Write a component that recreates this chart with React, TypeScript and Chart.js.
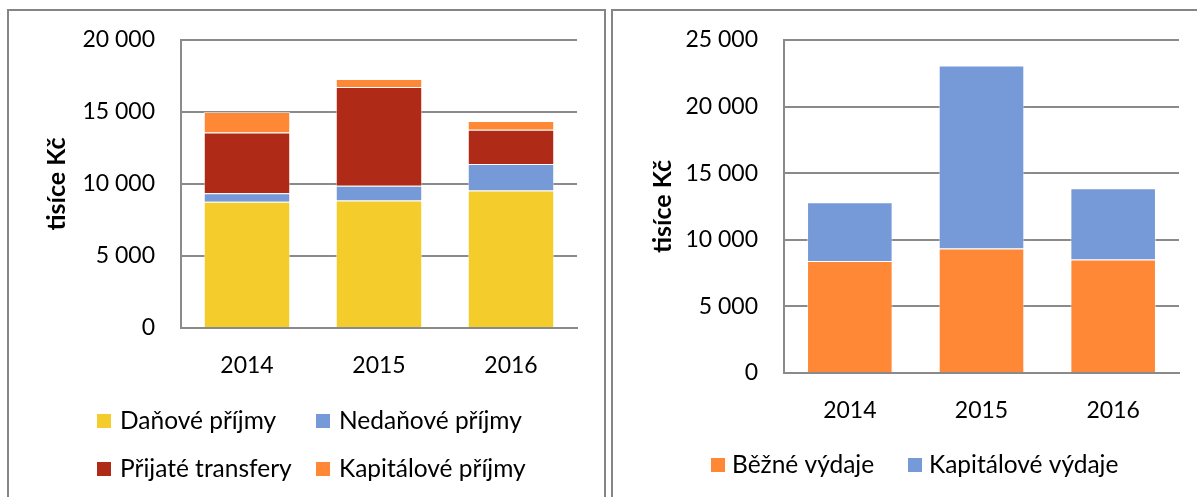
import React, { useEffect, useRef } from "react";
import { Chart, registerables } from "chart.js";

Chart.register(...registerables);

const years = ["2014", "2015", "2016"];

const incomeLabels = ["Daňové příjmy", "Nedaňové příjmy", "Přijaté transfery", "Kapitálové příjmy"];
const danovePrijmy = [8760, 8850, 9540];
const nedanovePrijmy = [600, 1020, 1850];
const prijateTransfery = [4220, 6870, 2370];
const kapitalovePrijmy = [1420, 550, 620];
const incomeTicks = [0, 5000, 10000, 15000, 20000];

const expenseLabels = ["Běžné výdaje", "Kapitálové výdaje"];
const bezneVydaje = [8400, 9340, 8520];
const kapitaloveVydaje = [4420, 13750, 5350];
const expenseTicks = [0, 5000, 10000, 15000, 20000, 25000];

const axisTitle = "tisíce Kč";

const C_YELLOW = "#F4CD2C";
const C_BLUE = "#7699D7";
const C_RED = "#B02B17";
const C_ORANGE = "#FF8837";
const GRID = "#8a8a8a";
const FONT = "Lato";

const fmt = (v: number) => String(v).replace(/\B(?=(\d{3})+(?!\d))/g, " ");

const gridLegend = {
  id: "gridLegend",
  afterDraw(chart: any, _args: any, opts: any) {
    const ctx = chart.ctx;
    const ds = chart.data.datasets;
    ctx.save();
    ctx.font = `${opts.fontSize}px ${FONT}`;
    ctx.textBaseline = "middle";
    ctx.textAlign = "left";
    ds.forEach((d: any, i: number) => {
      const col = i % opts.cols.length;
      const row = Math.floor(i / opts.cols.length);
      const x = opts.cols[col];
      const y = opts.rows[row];
      ctx.fillStyle = d.backgroundColor;
      ctx.fillRect(x, y, opts.box, opts.box);
      ctx.fillStyle = "#000";
      ctx.fillText(d.label, x + opts.box + opts.gap, y + opts.box / 2 + opts.textDy);
    });
    ctx.restore();
  },
};

function makeOptions(max: number, ticks: number[], yWidth: number, pad: any, legend: any) {
  return {
    animation: false,
    responsive: false,
    events: [],
    layout: { padding: pad },
    plugins: {
      legend: { display: false },
      tooltip: { enabled: false },
      gridLegend: legend,
    },
    scales: {
      x: {
        stacked: true,
        grid: { display: false, drawTicks: false },
        border: { display: true, color: GRID, width: 2 },
        ticks: { color: "#000", font: { family: FONT, size: 23 }, padding: 24 },
        afterFit: (axis: any) => {
          axis.height = 70;
        },
      },
      y: {
        stacked: true,
        min: 0,
        max,
        afterBuildTicks: (axis: any) => {
          axis.ticks = ticks.map((v) => ({ value: v }));
        },
        grid: { color: GRID, lineWidth: 2, drawTicks: false },
        border: { display: true, color: GRID, width: 2 },
        ticks: {
          color: "#000",
          font: { family: FONT, size: 23 },
          padding: 26,
          callback: (v: any) => fmt(Number(v)),
        },
        title: {
          display: true,
          text: axisTitle,
          color: "#000",
          font: { family: FONT, size: 25, weight: "bold" },
          padding: { top: 42, bottom: 0 },
        },
        afterFit: (axis: any) => {
          axis.width = yWidth;
        },
      },
    },
  };
}

function ChartCanvas({ config, style, width, height }: any) {
  const ref = useRef<HTMLCanvasElement>(null);
  useEffect(() => {
    const chart = new Chart(ref.current as HTMLCanvasElement, config);
    return () => chart.destroy();
  }, []);
  return <canvas ref={ref} width={width} height={height} style={{ position: "absolute", ...style }} />;
}

const barStyle = {
  borderColor: "rgba(255,255,255,0.55)",
  borderWidth: 1,
  categoryPercentage: 1,
};

export default function App() {
  const leftConfig: any = {
    type: "bar",
    data: {
      labels: years,
      datasets: [
        { label: incomeLabels[0], data: danovePrijmy, backgroundColor: C_YELLOW, ...barStyle, barPercentage: 0.655 },
        { label: incomeLabels[1], data: nedanovePrijmy, backgroundColor: C_BLUE, ...barStyle, barPercentage: 0.655 },
        { label: incomeLabels[2], data: prijateTransfery, backgroundColor: C_RED, ...barStyle, barPercentage: 0.655 },
        { label: incomeLabels[3], data: kapitalovePrijmy, backgroundColor: C_ORANGE, ...barStyle, barPercentage: 0.655 },
      ],
    },
    options: makeOptions(20000, incomeTicks, 181, { left: 0, top: 40, right: 29, bottom: 99 }, {
      cols: [97, 316],
      rows: [414, 462],
      box: 14,
      gap: 9,
      fontSize: 24.5,
      textDy: 0,
    }),
    plugins: [gridLegend],
  };

  const rightConfig: any = {
    type: "bar",
    data: {
      labels: years,
      datasets: [
        { label: expenseLabels[0], data: bezneVydaje, backgroundColor: C_ORANGE, ...barStyle, barPercentage: 0.65 },
        { label: expenseLabels[1], data: kapitaloveVydaje, backgroundColor: C_BLUE, ...barStyle, barPercentage: 0.65 },
      ],
    },
    options: makeOptions(25000, expenseTicks, 178, { left: 0, top: 40, right: 18, bottom: 54 }, {
      cols: [105, 302],
      rows: [458],
      box: 14,
      gap: 7,
      fontSize: 24.5,
      textDy: 0,
    }),
    plugins: [gridLegend],
  };

  return (
    <div style={{ position: "absolute", left: 0, top: 0, width: 1197, height: 497, overflow: "hidden", background: "#fff" }}>
      <div style={{ position: "absolute", left: 7, top: 9, width: 599, height: 600, boxSizing: "border-box", border: "2px solid #858585" }} />
      <div style={{ position: "absolute", left: 611, top: 9, width: 700, height: 600, boxSizing: "border-box", border: "2px solid #858585" }} />
      <ChartCanvas config={leftConfig} width={606} height={497} style={{ left: 0, top: 0 }} />
      <ChartCanvas config={rightConfig} width={591} height={497} style={{ left: 606, top: 0 }} />
    </div>
  );
}
